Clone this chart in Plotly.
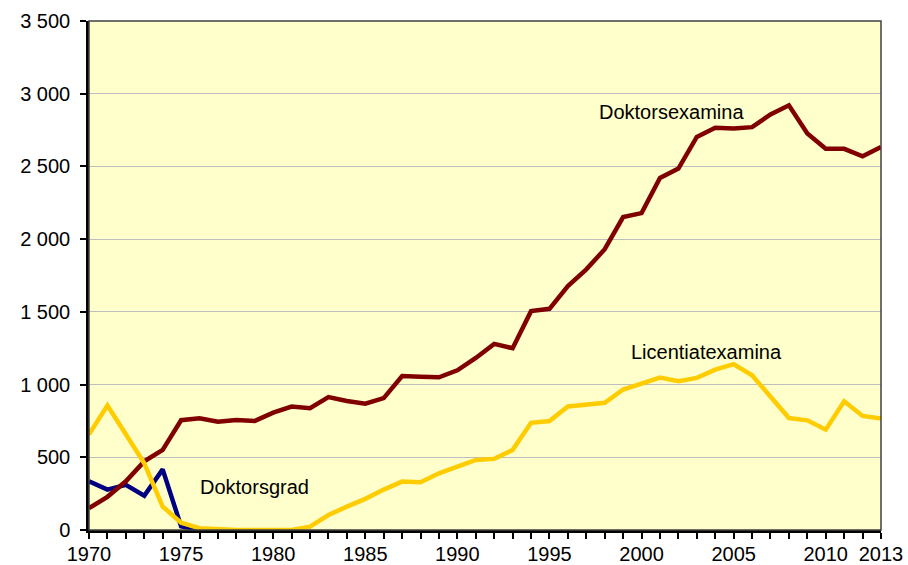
import plotly.graph_objects as go

years = list(range(1970, 2014))
doktorsexamina = [150, 228, 335, 472, 551, 755, 769, 745, 757, 750, 807, 849,
                  838, 914, 887, 868, 907, 1059, 1054, 1050, 1098, 1183, 1280, 1250,
                  1505, 1521, 1677, 1792, 1931, 2152, 2179, 2421, 2485, 2703, 2766, 2761,
                  2770, 2857, 2920, 2726, 2621, 2621, 2570, 2634]
licentiatexamina = [658, 856, 658, 459, 161, 50, 12, 3, 0, 0, 0, 0,
                    23, 103, 161, 214, 278, 333, 328, 390, 436, 482, 489, 551,
                    737, 749, 850, 864, 875, 966, 1011, 1048, 1023, 1046, 1103, 1140,
                    1064, 920, 770, 754, 690, 885, 784, 766]
grad_years = list(range(1970, 1977))
doktorsgrad = [335, 278, 310, 236, 417, 25, 0]

x_tickvals = [1970, 1975, 1980, 1985, 1990, 1995, 2000, 2005, 2010, 2013]
x_ticktext = [str(v) for v in x_tickvals]
y_tickvals = [0, 500, 1000, 1500, 2000, 2500, 3000, 3500]
y_ticktext = ["0", "500", "1 000", "1 500", "2 000", "2 500", "3 000", "3 500"]

FONT = "Liberation Sans, Arial, sans-serif"

fig = go.Figure()
fig.add_trace(go.Scatter(x=grad_years, y=doktorsgrad, mode="lines",
                         line=dict(color="#000080", width=4.5), name="Doktorsgrad"))
fig.add_trace(go.Scatter(x=years, y=doktorsexamina, mode="lines",
                         line=dict(color="#800000", width=4.5), name="Doktorsexamina"))
fig.add_trace(go.Scatter(x=years, y=licentiatexamina, mode="lines",
                         line=dict(color="#FFCC00", width=4.5), name="Licentiatexamina"))

labels = [("Doktorsexamina", 2001.65, 2874), ("Licentiatexamina", 2003.5, 1224),
          ("Doktorsgrad", 1978.96, 296)]
for txt, lx, ly in labels:
    fig.add_annotation(x=lx, y=ly, text=txt, showarrow=False,
                       font=dict(family=FONT, size=20, color="black"),
                       xanchor="center", yanchor="middle")

fig.add_shape(type="rect", xref="paper", yref="paper", x0=0, y0=0, x1=1, y1=1,
              line=dict(color="#404040", width=1.5), layer="above")

fig.update_layout(
    width=908, height=565,
    margin=dict(l=89, r=27, t=21, b=35),
    paper_bgcolor="white", plot_bgcolor="#FFFFCC",
    showlegend=False,
    font=dict(family=FONT, size=20, color="black"),
    xaxis=dict(range=[1970, 2013], tickvals=x_tickvals, ticktext=x_ticktext,
               ticks="outside", ticklen=6, tickwidth=2, tickcolor="black",
               showline=True, linecolor="black", linewidth=2.5, showgrid=False,
               zeroline=False, automargin=False, ticklabelstandoff=-2,
               minor=dict(tick0=1970, dtick=1, ticks="outside", ticklen=6,
                          tickwidth=2, tickcolor="black", showgrid=False),
               tickfont=dict(family=FONT, size=20)),
    yaxis=dict(range=[0, 3500], tickvals=y_tickvals, ticktext=y_ticktext,
               ticks="outside", ticklen=6, tickwidth=2, tickcolor="black",
               showline=True, linecolor="black", linewidth=2.5,
               showgrid=True, gridcolor="#BEBEBE", gridwidth=1, zeroline=False,
               ticklabelstandoff=6, automargin=False,
               tickfont=dict(family=FONT, size=20)),
)

fig.write_html("out.html", config={"displayModeBar": False},
               post_script="document.body.style.margin='0';document.body.style.overflow='hidden';")
